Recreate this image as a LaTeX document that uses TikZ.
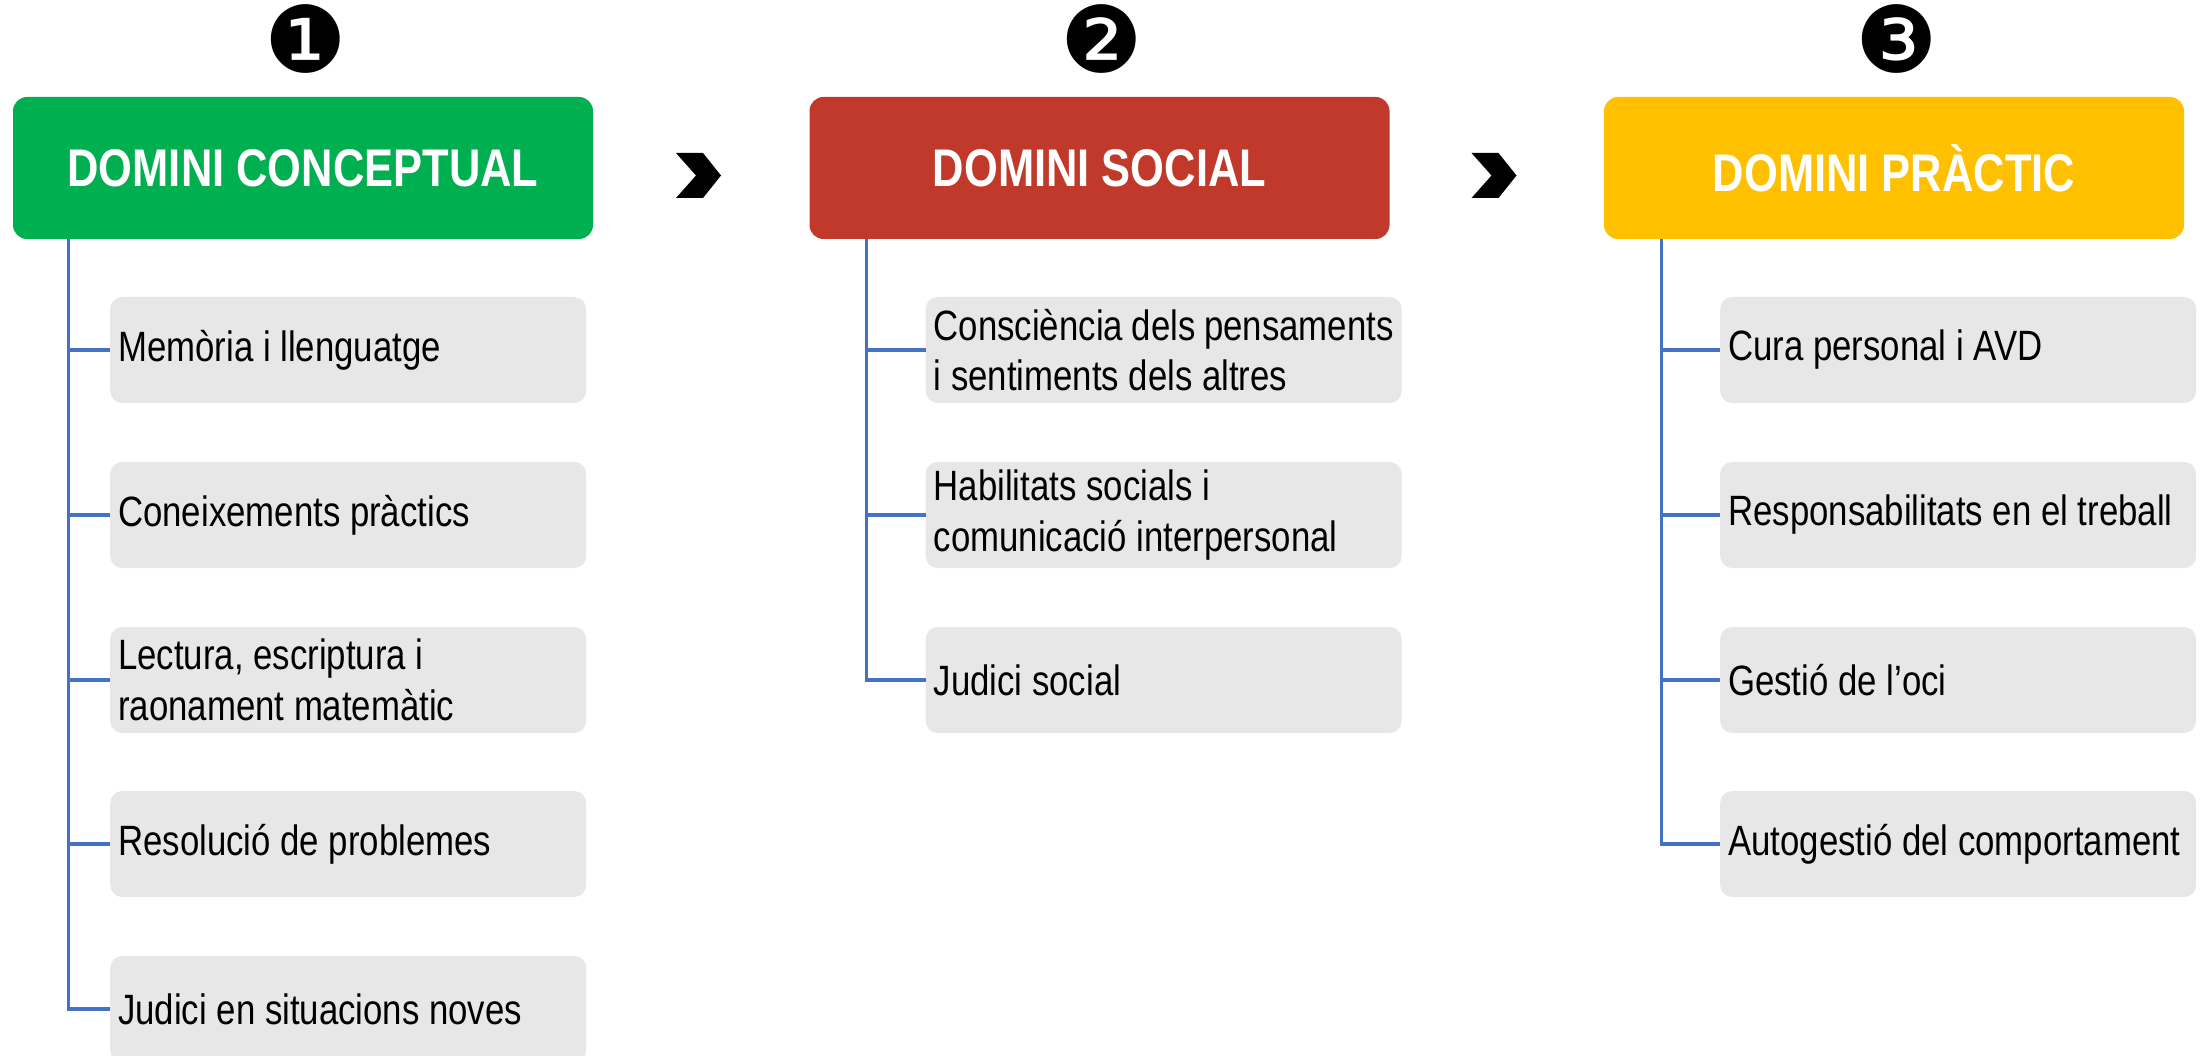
\documentclass[tikz,border=0pt]{standalone}
\usepackage{fontspec}
\setmainfont{Liberation Sans}
\newfontfamily\narrowfont[FakeStretch=0.82]{Liberation Sans}
\newfontfamily\dingfont{DejaVu Sans}
\definecolor{hgreen}{HTML}{00B050}
\definecolor{hred}{HTML}{C0392B}
\definecolor{hyellow}{HTML}{FFC000}
\definecolor{itemgray}{HTML}{E7E7E7}
\definecolor{treeblue}{HTML}{4472C4}
\begin{document}
\begin{tikzpicture}[x=1pt,y=-1pt,
  head/.style={rectangle, rounded corners=14pt, minimum width=580pt, minimum height=142pt,
    inner sep=0pt, text=white, font=\narrowfont\bfseries\fontsize{53}{60}\selectfont},
  item/.style={rectangle, rounded corners=12pt, fill=itemgray, minimum width=476pt,
    minimum height=106pt, anchor=west, text width=460pt, inner xsep=8pt,
    inner ysep=0pt, font=\narrowfont\fontsize{42.4}{50.7}\selectfont,
    execute at begin node={\raggedright\spaceskip=0pt\xspaceskip=0pt\relax}},
  tree/.style={draw=treeblue, line width=3.2pt},
  num/.style={inner sep=0pt, font=\dingfont\fontsize{92}{94}\selectfont},
  chev/.style={fill=black}]
\useasboundingbox (0,0) rectangle (2209,1056);
\clip (0,0) rectangle (2209,1056);

% numbers
\node[num] (n1) at (306,39) {❶};
\node[num] (n2) at (1102,39) {❷};
\node[num] (n3) at (1897,39) {❸};

% headers
\node[head, fill=hgreen] (h1) at (303,168) {DOMINI CONCEPTUAL};
\node[head, fill=hred] (h2) at (1099.5,168) {DOMINI SOCIAL};
\node[head, fill=hyellow] (h3) at (1894,168) {DOMINI PRÀCTIC};

% chevrons
\fill[chev, shift={(698.5,175.5)}] (-22.5,-22.5) -- (4.5,-22.5) -- (22.5,0) -- (4.5,22.5) -- (-22.5,22.5) -- (-2.5,0) -- cycle;
\fill[chev, shift={(1494,175.5)}] (-22.5,-22.5) -- (4.5,-22.5) -- (22.5,0) -- (4.5,22.5) -- (-22.5,22.5) -- (-2.5,0) -- cycle;

% column 1
\node[item] (a1) at (110,350) {Memòria i llenguatge};
\node[item] (a2) at (110,515) {Coneixements pràctics};
\node[item] (a3) at (110,680) {Lectura, escriptura i\\raonament matemàtic};
\node[item] (a4) at (110,844) {Resolució de problemes};
\node[item] (a5) at (110,1009) {Judici en situacions noves};

% column 2
\node[item] (b1) at (925.5,350) {Consciència dels pensaments\\i sentiments dels altres};
\node[item] (b2) at (925.5,515) {Habilitats socials i\\comunicació interpersonal};
\node[item] (b3) at (925.5,680) {Judici social};

% column 3
\node[item] (c1) at (1720,350) {Cura personal i AVD};
\node[item] (c2) at (1720,515) {Responsabilitats en el treball};
\node[item] (c3) at (1720,680) {Gestió de l’oci};
\node[item] (c4) at (1720,844) {Autogestió del comportament};

% tree connectors
\foreach \t in {a1,a2,a3,a4,a5}
  \draw[tree] ([xshift=56pt]h1.south west) |- (\t.west);
\foreach \t in {b1,b2,b3}
  \draw[tree] ([xshift=57.5pt]h2.south west) |- (\t.west);
\foreach \t in {c1,c2,c3,c4}
  \draw[tree] ([xshift=57.5pt]h3.south west) |- (\t.west);
\end{tikzpicture}
\end{document}
